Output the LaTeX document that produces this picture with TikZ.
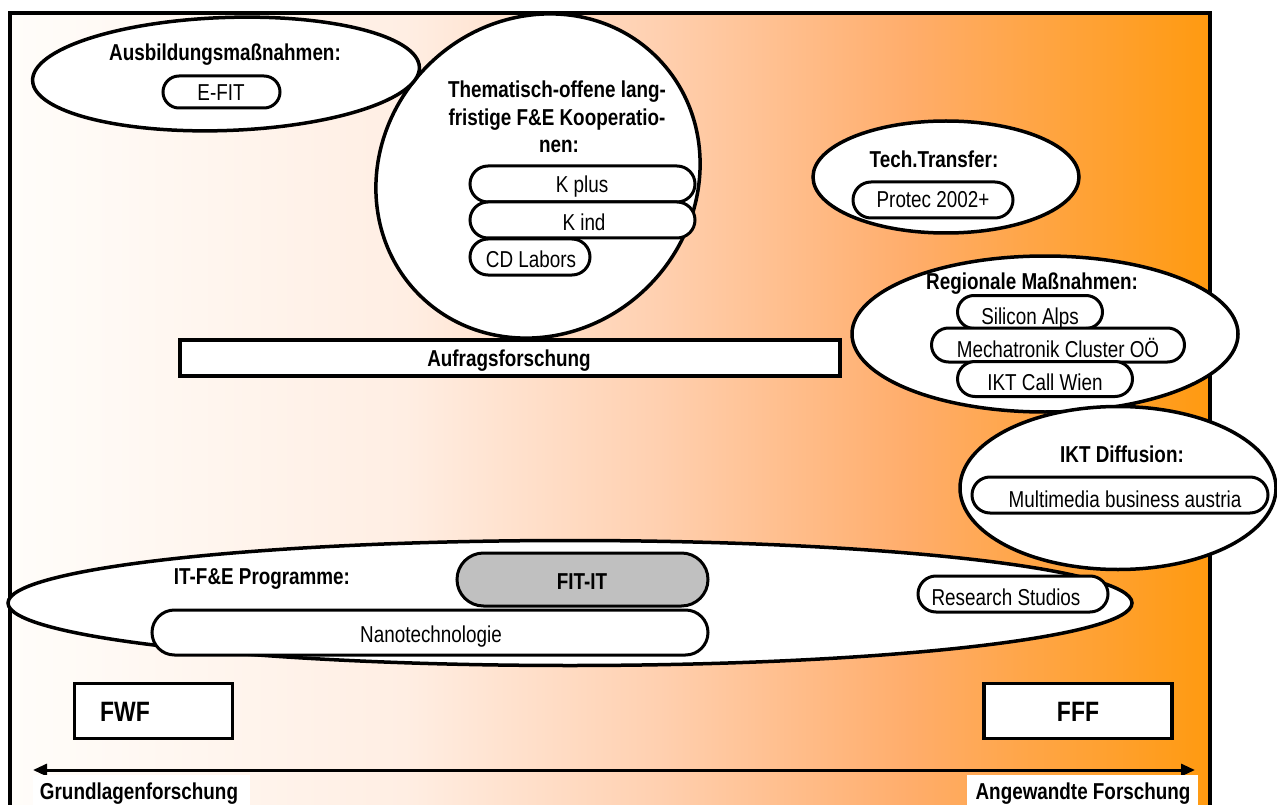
\documentclass[tikz,border=0pt]{standalone}
\usepackage{fontspec}
\setmainfont{Liberation Sans}[FakeStretch=0.82]
\usetikzlibrary{shapes.geometric,shapes.misc,arrows.meta}
\definecolor{c0}{HTML}{FFFDFA}
\definecolor{c1}{HTML}{FFEEE3}
\definecolor{c2}{HTML}{FFD0B0}
\definecolor{c3}{HTML}{FFAD6B}
\definecolor{c4}{HTML}{FF9A10}
\definecolor{pillgray}{HTML}{C0C0C0}
\pgfdeclarehorizontalshading{bgshade}{100bp}{color(0bp)=(c0); color(25bp)=(c0); color(41.5bp)=(c1); color(52bp)=(c2); color(62.5bp)=(c3); color(75bp)=(c4); color(100bp)=(c4)}
\begin{document}
\begin{tikzpicture}[x=1pt,y=-1pt,
  every node/.style={font=\fontsize{23}{27.5}\selectfont},
  ell/.style={ellipse, draw, fill=white, line width=3.5pt, inner sep=0pt},
  pill/.style={rounded rectangle, draw, fill=white, line width=3pt, inner sep=0pt},
  box/.style={rectangle, draw, fill=white, line width=3.5pt, inner sep=0pt},
  lbl/.style={anchor=base, inner sep=0pt},
  hd/.style={anchor=base, inner sep=0pt, font=\fontsize{23}{27.5}\selectfont\bfseries},
  bighd/.style={anchor=base, inner sep=0pt, font=\fontsize{28}{32}\selectfont\bfseries},
  wbox/.style={rectangle, fill=white, inner sep=0pt}]
\useasboundingbox (0,0) rectangle (1277,805);
\clip (0,0) rectangle (1277,805);
% background frame
\path[shading=bgshade] (9.5,13.5) rectangle (1209.5,830);
\draw[line width=4pt] (9.5,830) -- (9.5,13.5) -- (1209.5,13.5) -- (1209.5,830);

% Thematisch-offene
\node[ell, rotate=45, minimum width=336pt, minimum height=312pt] (them) at (538,176) {};
\node[hd] (them1) at (557,98) {Thematisch-offene lang-};
\node[hd] (them2) at (557,126) {fristige F\&E Kooperatio-};
\node[hd] (them3) at (559,153) {nen:};
\node[pill, minimum width=225pt, minimum height=36pt] (kplus) at (582.5,184) {};
\node[lbl] (kplust) at (582,193) {K plus};
\node[pill, minimum width=225pt, minimum height=36pt] (kind) at (582.5,220) {};
\node[lbl] (kindt) at (584,230) {K ind};
\node[pill, minimum width=120pt, minimum height=36pt] (cd) at (530,257) {};
\node[lbl] (cdt) at (531,267) {CD Labors};

% Ausbildung
\node[ell, rotate=2, minimum width=387pt, minimum height=113pt] (ausb) at (226,74) {};
\node[hd] (ausbt) at (225,61) {Ausbildungsmaßnahmen:};
\node[pill, minimum width=117pt, minimum height=32pt] (efit) at (221.5,92) {};
\node[lbl] (efitt) at (221,101) {E-FIT};

% Tech.Transfer
\node[ell, minimum width=266pt, minimum height=112pt] (tech) at (946,177) {};
\node[hd] (techt) at (934,168) {Tech.Transfer:};
\node[pill, minimum width=160pt, minimum height=36pt] (protec) at (933,200) {};
\node[lbl] (protect) at (933,208) {Protec 2002+};

% Regionale
\node[ell, minimum width=386pt, minimum height=156pt] (reg) at (1045,334) {};
\node[hd] (regt) at (1032,289) {Regionale Maßnahmen:};
\node[pill, minimum width=145pt, minimum height=33pt] (silicon) at (1030,312) {};
\node[lbl] (silicont) at (1030,324) {Silicon Alps};
\node[pill, minimum width=253pt, minimum height=34pt] (mecha) at (1058,345) {};
\node[lbl] (mechat) at (1058,357) {Mechatronik Cluster OÖ};
\node[pill, minimum width=175pt, minimum height=35pt] (iktcall) at (1045,379) {};
\node[lbl] (iktcallt) at (1045,390) {IKT Call Wien};

% IKT Diffusion
\node[ell, minimum width=316pt, minimum height=163pt] (iktd) at (1118,488) {};
\node[hd] (iktdt) at (1122,462) {IKT Diffusion:};
\node[pill, minimum width=296pt, minimum height=36pt] (mm) at (1120,495) {};
\node[lbl] (mmt) at (1125,507) {Multimedia business austria};

% Aufragsforschung
\node[box, minimum width=660pt, minimum height=36pt] (auf) at (510,358) {};
\node[hd] (auft) at (509,366) {Aufragsforschung};

% IT-F&E Programme
\node[ell, minimum width=1124pt, minimum height=125pt] (itfe) at (570,603) {};
\node[hd] (itfet) at (262,584) {IT-F\&E Programme:};
\node[pill, fill=pillgray, minimum width=251pt, minimum height=53pt] (fitit) at (582.5,579.5) {};
\node[hd] (fititt) at (582,589) {FIT-IT};
\node[pill, minimum width=556pt, minimum height=45pt] (nano) at (430,632.5) {};
\node[lbl] (nanot) at (431,642) {Nanotechnologie};
\node[pill, minimum width=190pt, minimum height=36pt] (rs) at (1013,594) {};
\node[lbl] (rst) at (1006,605) {Research Studios};

% FWF / FFF
\node[box, minimum width=158pt, minimum height=55pt] (fwf) at (153.5,711) {};
\node[bighd] (fwft) at (125,721) {FWF};
\node[box, minimum width=188pt, minimum height=55pt] (fff) at (1078,711) {};
\node[bighd] (ffft) at (1078,721) {FFF};

% axis arrow
\coordinate (aL) at (33,770);
\coordinate (aR) at (1195,770);
\draw[line width=3pt, {Triangle[length=14pt,width=12pt]}-{Triangle[length=14pt,width=12pt]}] (aL) -- (aR);
\node[wbox, minimum width=217pt, minimum height=31pt] (gbox) at (141.5,790.5) {};
\node[hd] (gt) at (139,799) {Grundlagenforschung};
\node[wbox, minimum width=231pt, minimum height=31pt] (abox) at (1082.5,790.5) {};
\node[hd] (at) at (1083,799) {Angewandte Forschung};
\end{tikzpicture}
\end{document}
